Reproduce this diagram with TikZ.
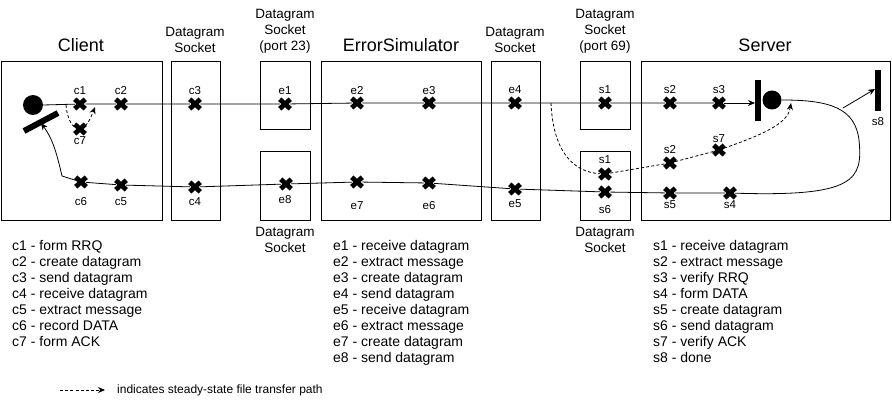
\documentclass[tikz,border=0pt]{standalone}
\usepackage{fontspec}
\setmainfont{Liberation Sans}
\usetikzlibrary{shapes.misc,arrows.meta}
\tikzset{
  box/.style={draw, line width=0.8pt, inner sep=0pt, outer sep=0pt},
  xm/.style={draw, cross out, line width=4.8pt, minimum width=10.5pt, minimum height=9.5pt, inner sep=0pt, outer sep=0pt},
  lab/.style={font=\fontsize{11.5}{13}\selectfont, inner sep=0pt},
  ttl/.style={font=\fontsize{18}{20}\selectfont, inner sep=0pt},
  sock/.style={font=\fontsize{13.5}{16}\selectfont, align=center, inner sep=0pt},
  lst/.style={font=\fontsize{14}{16}\selectfont, align=left, anchor=north west, inner sep=0pt},
  conn/.style={line width=0.8pt},
  dsh/.style={conn, dash pattern=on 3pt off 2.2pt},
  arr/.style={-{Stealth[length=7pt,width=6pt]}},
  barline/.style={line width=6pt},
}
\begin{document}
\begin{tikzpicture}[x=1pt,y=-1pt]
\useasboundingbox (0,0) rectangle (892,401);
% boxes
\node[box, minimum width=161pt, minimum height=159pt] (client) at (81.5,140.5) {};
\node[box, minimum width=49pt, minimum height=159pt] (ds1) at (195.5,140.5) {};
\node[box, minimum width=50pt, minimum height=68pt] (ds23) at (285,95) {};
\node[box, minimum width=50pt, minimum height=69pt] (ds8) at (285,185.5) {};
\node[box, minimum width=160pt, minimum height=159pt] (es) at (401,140.5) {};
\node[box, minimum width=49pt, minimum height=159pt] (ds4) at (515.5,140.5) {};
\node[box, minimum width=50pt, minimum height=68pt] (ds69) at (605,95) {};
\node[box, minimum width=50pt, minimum height=69pt] (ds6) at (605,185.5) {};
\node[box, minimum width=249pt, minimum height=159pt] (server) at (765.5,140.5) {};
% titles
\node[ttl] (tclient) at (81,45) {Client};
\node[ttl] (tes) at (401,45) {ErrorSimulator};
\node[ttl] (tserver) at (765,45) {Server};
\node[sock] (sk1) at (195,40) {Datagram\\Socket};
\node[sock] (sk23) at (285,31) {Datagram\\Socket\\(port 23)};
\node[sock] (sk4) at (515,40) {Datagram\\Socket};
\node[sock] (sk69) at (605,31) {Datagram\\Socket\\(port 69)};
\node[sock] (sk8) at (285,240) {Datagram\\Socket};
\node[sock] (sk6) at (605,240) {Datagram\\Socket};
% client start / end
\fill (33,105) circle (10pt);
\coordinate (ccirc) at (43,105);
\draw[barline] (24,131) -- (58,113);
\coordinate (cbar) at (41,123);
% server start / end
\draw[barline] (758,80) -- (758,121);
\coordinate (sbar) at (755,103);
\fill (772,100) circle (9.5pt);
\coordinate (scirc) at (782,100);
\draw[barline] (878,70) -- (878,111);
\coordinate (s8bar) at (875,89);
% x marks top
\node[xm] (c1) at (80,104) {};
\node[xm] (c2) at (121,104) {};
\node[xm] (c3) at (195,104) {};
\node[xm] (e1) at (285,104) {};
\node[xm] (e2) at (357,103) {};
\node[xm] (e3) at (429,103) {};
\node[xm] (e4) at (515,103) {};
\node[xm] (s1) at (605,103) {};
\node[xm] (s2) at (670,103) {};
\node[xm] (s3) at (719,103) {};
\node[xm] (c7) at (80,129) {};
% x marks bottom
\node[xm] (c6) at (81,182) {};
\node[xm] (c5) at (121,185) {};
\node[xm] (c4) at (195,187) {};
\node[xm] (e8) at (286,184) {};
\node[xm] (e7) at (357,182) {};
\node[xm] (e6) at (429,183) {};
\node[xm] (e5) at (515,189) {};
\node[xm] (s6) at (605,192) {};
\node[xm] (s5) at (670,193) {};
\node[xm] (s4) at (730,193) {};
\node[xm] (s1b) at (605,174) {};
\node[xm] (s2b) at (670,163) {};
\node[xm] (s7) at (719,150) {};
% labels
\node[lab] (lc1) at (80,91) {c1};
\node[lab] (lc2) at (121,91) {c2};
\node[lab] (lc7) at (80,141) {c7};
\node[lab] (lc6) at (81,202) {c6};
\node[lab] (lc5) at (121,202) {c5};
\node[lab] (lc3) at (195,91) {c3};
\node[lab] (lc4) at (195,202) {c4};
\node[lab] (le1) at (285,91) {e1};
\node[lab] (le8) at (285,200) {e8};
\node[lab] (le2) at (357,91) {e2};
\node[lab] (le3) at (429,91) {e3};
\node[lab] (le7) at (357,206) {e7};
\node[lab] (le6) at (429,206) {e6};
\node[lab] (le4) at (515,90) {e4};
\node[lab] (le5) at (515,204) {e5};
\node[lab] (ls1) at (605,90) {s1};
\node[lab] (ls2) at (670,90) {s2};
\node[lab] (ls3) at (719,90) {s3};
\node[lab] (ls1b) at (605,160) {s1};
\node[lab] (ls6) at (605,210) {s6};
\node[lab] (ls2b) at (670,150) {s2};
\node[lab] (ls7) at (719,139) {s7};
\node[lab] (ls5) at (670,205) {s5};
\node[lab] (ls4) at (730,205) {s4};
\node[lab] (ls8) at (878,122) {s8};
% main forward path
\draw[conn] (ccirc) -- (c1) -- (c2) -- (c3) -- (e1) -- (e2) -- (e3) -- (e4) -- (s1) -- (s2) -- (s3);
\draw[conn, arr] (s3) -- (sbar);
% return path
\coordinate (branch) at (843,108);
\draw[conn] (scirc) .. controls (830,100) and (855,108) .. (859,140)
   .. controls (863,180) and (855,197) .. (s4);
\draw[conn] (s4) -- (s5) -- (s6) -- (e5) -- (e6) -- (e7) -- (e8) -- (c4) -- (c5) -- (c6);
\coordinate (cturn) at (62,176);
\draw[conn, arr] (c6) -- (cturn) .. controls (56,150) and (52,138) .. (cbar);
\draw[conn, arr] (branch) -- (s8bar);
% dashed steady state (client)
\coordinate (cd1) at (66,105);
\coordinate (cd2) at (95,107);
\draw[dsh] (cd1) .. controls (67,118) and (72,126) .. (c7);
\draw[dsh, arr] (c7) .. controls (88,124) and (92,115) .. (cd2);
% dashed steady state (server)
\coordinate (sd1) at (551,103);
\coordinate (sd2) at (791,103);
\draw[dsh] (sd1) .. controls (553,150) and (572,172) .. (s1b);
\draw[dsh] (s1b) -- (s2b) -- (s7);
\draw[dsh, arr] (s7) .. controls (770,132) and (788,122) .. (sd2);
% lists
\node[lst] (clist) at (12,240.5) {c1 - form RRQ\\c2 - create datagram\\c3 - send datagram\\c4 - receive datagram\\c5 - extract message\\c6 - record DATA\\c7 - form ACK};
\node[lst] (elist) at (333,240.5) {e1 - receive datagram\\e2 - extract message\\e3 - create datagram\\e4 - send datagram\\e5 - receive datagram\\e6 - extract message\\e7 - create datagram\\e8 - send datagram};
\node[lst] (slist) at (653,240.5) {s1 - receive datagram\\s2 - extract message\\s3 - verify RRQ\\s4 - form DATA\\s5 - create datagram\\s6 - send datagram\\s7 - verify ACK\\s8 - done};
% legend
\coordinate (lg1) at (60,390);
\coordinate (lg2) at (105,390);
\draw[dsh, -{Stealth[length=7pt,width=6pt]}] (lg1) -- (lg2);
\node[font=\fontsize{12}{14}\selectfont, anchor=west, inner sep=0pt] (lgtext) at (117,390) {indicates steady-state file transfer path};
\end{tikzpicture}
\end{document}
